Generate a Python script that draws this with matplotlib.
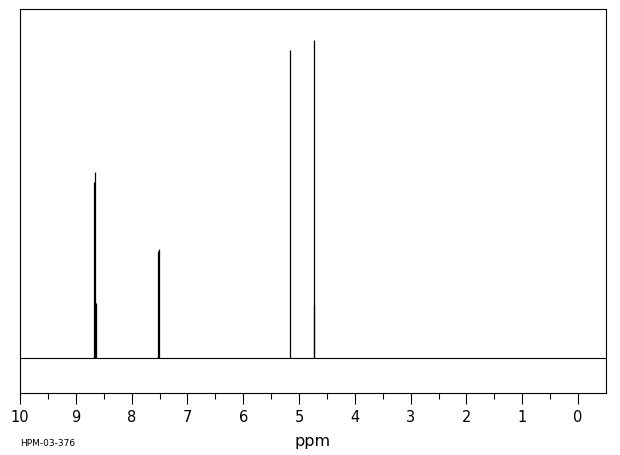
import matplotlib
matplotlib.use('Agg')
import matplotlib.pyplot as plt
import numpy as np

# peak list: chemical shift [ppm] and line height (baseline = 0)
ppm = [8.674, 8.656, 8.638, 7.527, 7.509, 5.170, 4.740, 4.731]
visina = [176, 186, 55, 107, 109, 308, 53, 318]

oznake = ['10', '9', '8', '7', '6', '5', '4', '3', '2', '1', '0']
glavni = np.arange(10, -1, -1)
sporedni = np.arange(9.5, 0, -1)

fig = plt.figure(figsize=(6.2, 4.55), dpi=100)
ax = fig.add_axes([20/620, 1-393/455, 586/620, 384/455])

ax.axhline(0, color='black', lw=0.8)
ax.vlines(ppm, 0, visina, color='black', lw=0.9)

ax.set_xlim(10, -0.5)
ax.set_ylim(-35, 349)
ax.set_yticks([])
ax.set_xticks(glavni)
ax.set_xticklabels(oznake, fontsize=10.5)
ax.set_xticks(sporedni, minor=True)
ax.tick_params(axis='x', which='major', length=8, width=0.8, pad=4)
ax.tick_params(axis='x', which='minor', length=4, width=0.8)
for s in ax.spines.values():
    s.set_linewidth(0.8)

ax.set_xlabel('ppm', fontsize=11.5, labelpad=7)
fig.text(20/620, 1-444/455, 'HPM-03-376', fontsize=6.5, va='center', ha='left')

fig.savefig('out.png', dpi=100)
